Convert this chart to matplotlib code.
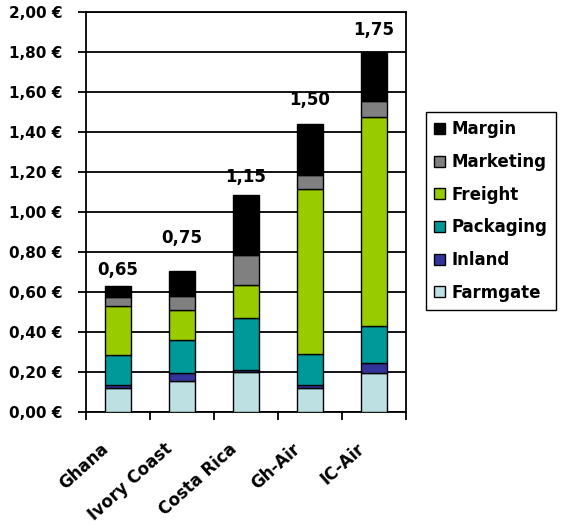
import numpy as np
import matplotlib
matplotlib.use('Agg')
import matplotlib.pyplot as plt
import matplotlib.transforms as mtransforms

# Cost build-up per origin (EUR)
countries = ['Ghana', 'Ivory Coast', 'Costa Rica', 'Gh-Air', 'IC-Air']
farmgate = [0.12, 0.155, 0.20, 0.12, 0.195]
inland = [0.015, 0.04, 0.01, 0.015, 0.05]
packaging = [0.15, 0.165, 0.26, 0.155, 0.185]
freight = [0.245, 0.15, 0.165, 0.825, 1.045]
marketing = [0.045, 0.07, 0.15, 0.07, 0.08]
margin = [0.055, 0.125, 0.30, 0.255, 0.245]

price_labels = ['0,65', '0,75', '1,15', '1,50', '1,75']
label_y = [0.71, 0.87, 1.175, 1.56, 1.91]

series = [
    ('Farmgate', farmgate, '#bde0e3'),
    ('Inland', inland, '#333399'),
    ('Packaging', packaging, '#009999'),
    ('Freight', freight, '#99cc00'),
    ('Marketing', marketing, '#808080'),
    ('Margin', margin, '#000000'),
]

plt.rcParams['font.family'] = 'DejaVu Sans'
plt.rcParams['font.weight'] = 'bold'

fig = plt.figure(figsize=(5.63, 5.24), dpi=100)
ax = fig.add_axes([86 / 563, 1 - 412 / 524, 320 / 563, 400 / 524])

x = np.arange(len(countries))
bottom = np.zeros(len(countries))
handles = []
for name, vals, col in series:
    b = ax.bar(x, vals, width=0.42, bottom=bottom, color=col,
               edgecolor='black', linewidth=1.0, label=name, zorder=3)
    handles.append(b)
    bottom += np.array(vals)

for xi, txt, yy in zip(x, price_labels, label_y):
    ax.text(xi, yy, txt, ha='center', va='center', fontsize=12, fontweight='bold')

ax.set_xlim(-0.5, len(countries) - 0.5)
ax.set_ylim(0, 2.0)
ax.set_yticks(np.arange(0, 2.01, 0.2))
ax.set_yticklabels([('%.2f' % v).replace('.', ',') + ' €' for v in np.arange(0, 2.01, 0.2)],
                   fontsize=11, fontweight='bold')
ax.yaxis.grid(True, color='black', linewidth=1.3, zorder=0)
ax.set_axisbelow(True)

ax.set_xticks(np.arange(-0.5, len(countries)), labels=[''] * (len(countries) + 1))
ax.set_xticks(x, labels=countries, minor=True)
ax.tick_params(axis='x', which='major', length=6, width=1.3, direction='out')
ax.tick_params(axis='x', which='minor', length=0, pad=20)
ax.tick_params(axis='y', length=6, width=1.3, direction='out', pad=11)
shift = mtransforms.ScaledTranslation(-18 / 100, 0, fig.dpi_scale_trans)
for lab in ax.get_xticklabels(minor=True):
    lab.set_rotation(42)
    lab.set_ha('right')
    lab.set_rotation_mode('anchor')
    lab.set_fontsize(12)
    lab.set_fontweight('bold')
    lab.set_transform(lab.get_transform() + shift)

for s in ax.spines.values():
    s.set_linewidth(1.3)
    s.set_color('black')

leg = ax.legend(handles[::-1], [s[0] for s in series][::-1],
                loc='upper left', bbox_to_anchor=(426 / 563, 1 - 112 / 524),
                bbox_transform=fig.transFigure, borderaxespad=0,
                prop={'weight': 'bold', 'size': 12},
                handlelength=0.65, handleheight=0.65, handletextpad=0.4,
                labelspacing=0.88, fancybox=False, framealpha=1,
                edgecolor='black', borderpad=0.5)
leg.get_frame().set_linewidth(1.0)

fig.savefig('out.png', dpi=100)
